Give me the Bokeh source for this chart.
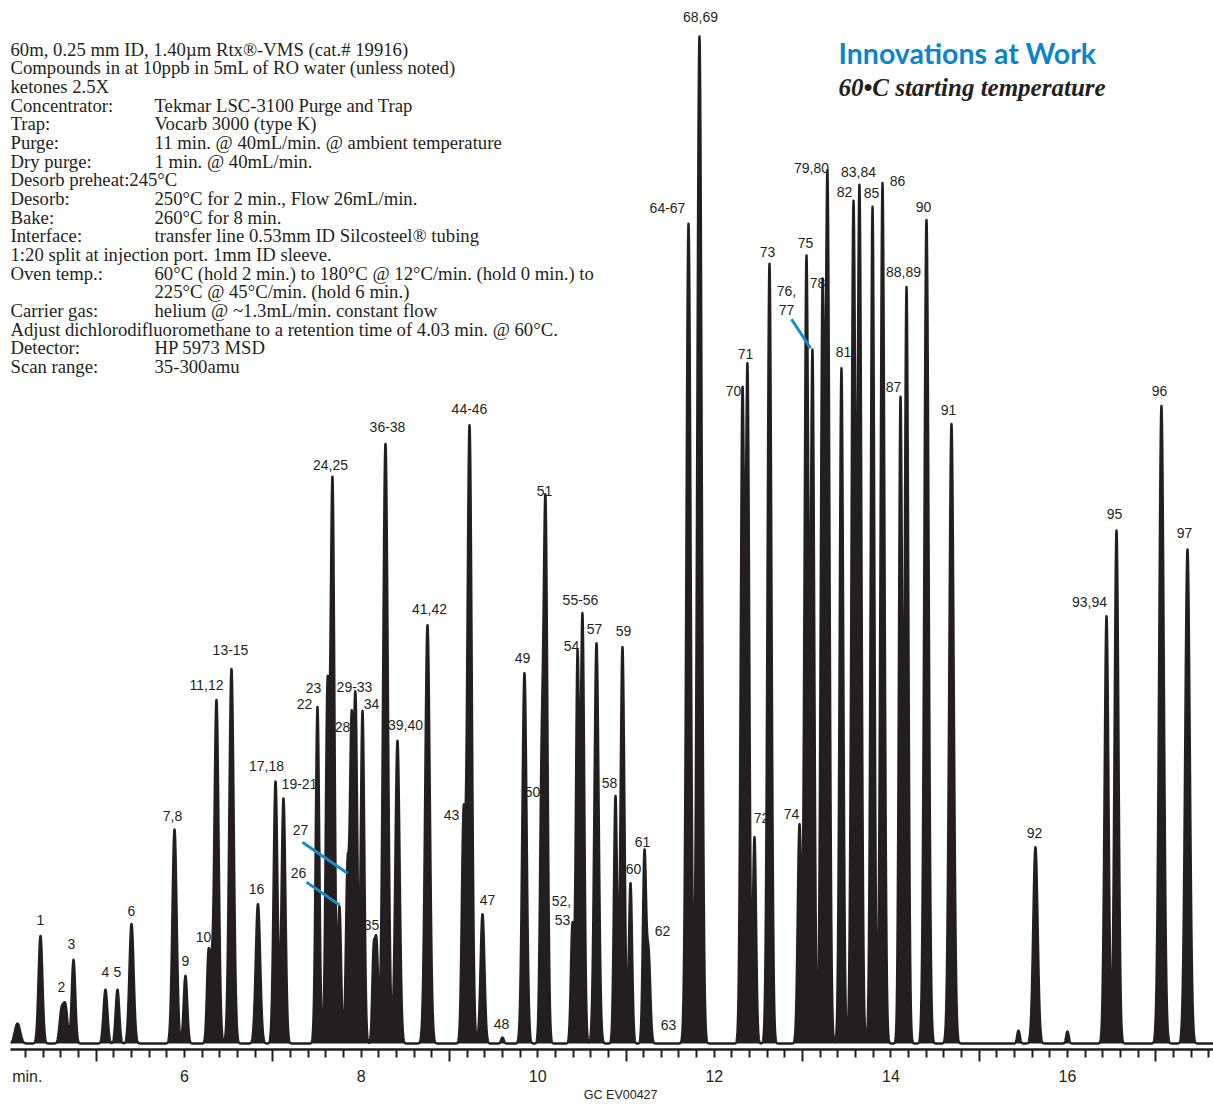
import numpy as np
from bokeh.plotting import figure
from bokeh.models import Range1d, LinearAxis, FixedTicker, ColumnDataSource
from bokeh.core.properties import value
from bokeh.embed import file_html
from bokeh.resources import INLINE

# ---------------- data ----------------
# retention time (min), peak height (detector units), peak sigma (min)
peak_rt = [4.109, 4.369, 4.607, 4.652, 4.743, 5.105, 5.241, 5.400, 5.887, 6.011,
           6.272, 6.306, 6.362, 6.532, 6.832, 7.031, 7.121, 7.506, 7.619, 7.676,
           7.755, 7.846, 7.891, 7.937, 8.016, 8.140, 8.174, 8.276, 8.412, 8.752,
           9.160, 9.228, 9.375, 9.601, 9.850, 10.043, 10.088, 10.394, 10.451, 10.507,
           10.666, 10.881, 10.960, 11.051, 11.209, 11.255, 11.708, 11.832, 12.319, 12.376,
           12.455, 12.625, 12.965, 13.044, 13.112, 13.225, 13.282, 13.440, 13.576, 13.644,
           13.792, 13.905, 14.109, 14.177, 14.403, 14.686, 15.445, 15.637, 16.000, 16.442,
           16.555, 17.064, 17.359]
peak_height = [20, 108, 32, 36, 84, 54, 54, 120, 215, 68,
               90, 55, 345, 376, 140, 263, 246, 338, 345, 563,
               137, 172, 300, 340, 334, 80, 100, 602, 304, 420,
               221, 620, 130, 6, 372, 235, 540, 119, 385, 429,
               402, 248, 398, 161, 188, 90, 823, 1011, 647, 671,
               207, 783, 219, 789, 690, 734, 863, 678, 839, 855,
               840, 864, 647, 759, 827, 622, 13, 197, 12, 429,
               515, 640, 496]
peak_sigma = [0.030, 0.022, 0.022, 0.022, 0.020, 0.022, 0.020, 0.024, 0.024, 0.020,
              0.018, 0.015, 0.024, 0.025, 0.025, 0.022, 0.022, 0.020, 0.020, 0.022,
              0.018, 0.018, 0.018, 0.020, 0.020, 0.015, 0.018, 0.027, 0.024, 0.026,
              0.020, 0.025, 0.022, 0.015, 0.024, 0.018, 0.022, 0.018, 0.018, 0.020,
              0.024, 0.018, 0.022, 0.018, 0.018, 0.020, 0.024, 0.025, 0.020, 0.020,
              0.018, 0.022, 0.020, 0.022, 0.020, 0.020, 0.022, 0.020, 0.022, 0.022,
              0.020, 0.022, 0.018, 0.020, 0.024, 0.025, 0.015, 0.025, 0.015, 0.022,
              0.022, 0.026, 0.026]

# axis ticks (minutes)
label_ticks = [6, 8, 10, 12, 14, 16]
long_ticks = [5, 7, 9, 11, 13, 15, 17]
short_ticks = [round(4.2 + 0.2 * i, 1) for i in range(68)]
short_ticks = [t for t in short_ticks if abs(t - round(t)) > 1e-6 or int(round(t)) % 2 == 0]

# peak identification labels
peak_labels = ["1", "2", "3", "4", "5", "6", "7,8", "9", "10", "11,12", "13-15", "16",
               "17,18", "19-21", "22", "23", "24,25", "26", "27", "28", "29-33", "34",
               "35", "36-38", "39,40", "41,42", "43", "44-46", "47", "48", "49", "50",
               "51", "52,", "53", "54", "55-56", "57", "58", "59", "60", "61", "62", "63",
               "64-67", "68,69", "70", "71", "72", "73", "74", "75", "76,", "77", "78",
               "79,80", "81", "82", "83,84", "85", "86", "87", "88,89", "90", "91", "92",
               "93,94", "95", "96", "97"]

method_left = ["60m, 0.25 mm ID, 1.40µm Rtx®-VMS (cat.# 19916)",
               "Compounds in at 10ppb in 5mL of RO water (unless noted)",
               "ketones 2.5X", "Concentrator:", "Trap:", "Purge:", "Dry purge:",
               "Desorb preheat:245°C", "Desorb:", "Bake:", "Interface:",
               "1:20 split at injection port. 1mm ID sleeve.", "Oven temp.:", "",
               "Carrier gas:",
               "Adjust dichlorodifluoromethane to a retention time of 4.03 min. @ 60°C.",
               "Detector:", "Scan range:"]
method_right = ["", "", "", "Tekmar LSC-3100 Purge and Trap", "Vocarb 3000 (type K)",
                "11 min. @ 40mL/min. @ ambient temperature", "1 min. @ 40mL/min.", "",
                "250°C for 2 min., Flow 26mL/min.", "260°C for 8 min.",
                "transfer line 0.53mm ID Silcosteel® tubing", "",
                "60°C (hold 2 min.) to 180°C @ 12°C/min. (hold 0 min.) to",
                "225°C @ 45°C/min. (hold 6 min.)", "helium @ ~1.3mL/min. constant flow",
                "", "HP 5973 MSD", "35-300amu"]

# ---------------- layout helpers (page pixels -> data) ----------------
PXPM = 88.3          # pixels per minute
def X(px):
    return 6 + (px - 184) / PXPM
def Y(py):
    return 1047 - py

label_pos = [(40, 923), (61, 990), (71, 947), (105, 975), (117, 975), (131, 914), (172, 819),
             (185, 964), (203, 940), (206, 687), (230, 652), (256, 892), (266, 768), (299, 786),
             (304, 706), (313, 690), (330, 466), (298, 876), (300, 833), (342, 729), (354, 689),
             (371, 706), (371, 928), (387, 428), (405, 727), (429, 611), (451, 818), (469, 410),
             (487, 903), (501, 1027), (522, 660), (532, 795), (544, 492), (561, 904), (562, 923),
             (571, 648), (580, 602), (594, 631), (609, 785), (623, 633), (633, 872), (642, 845),
             (662, 934), (668, 1028), (667, 208), (700, 17), (733, 392), (745, 355), (761, 821),
             (767, 252), (791, 817), (805, 243), (786, 292), (786, 311), (817, 284), (811, 168),
             (843, 353), (844, 192), (858, 172), (871, 193), (897, 181), (893, 388), (903, 273),
             (923, 207), (948, 411), (1034, 836), (1089, 604), (1114, 515), (1159, 392),
             (1184, 535)]
leaders = [((302, 845), (347, 876)), ((306, 885), (339, 908)), ((791, 320), (810, 349))]

INK = "#231f20"
BLUE = "#0a86c8"

# ---------------- trace ----------------
x0, x1 = X(10), X(1213)
t = np.linspace(x0, x1, 8000)
sig = np.zeros_like(t)
for rt, h, s in zip(peak_rt, peak_height, peak_sigma):
    sig += h * np.exp(-0.5 * ((t - rt) / s) ** 2)

p = figure(width=1213, height=1104, x_range=Range1d(x0, x1), y_range=Range1d(-6, 1047),
           output_backend="svg", toolbar_location=None,
           x_axis_location=None, y_axis_location=None,
           min_border_left=10, min_border_right=0, min_border_top=0, min_border_bottom=0)
p.outline_line_color = None
p.xgrid.visible = False
p.ygrid.visible = False
p.background_fill_color = "white"
p.border_fill_color = "white"

p.varea(x=t, y1=np.zeros_like(t), y2=sig, fill_color=INK, fill_alpha=1.0)
p.line(t, sig, line_color=INK, line_width=2.4, line_join="round")

# axes: inner one draws line and ticks, outer one the labels
inner = LinearAxis(ticker=FixedTicker(ticks=long_ticks, minor_ticks=short_ticks),
                   axis_line_color=INK, axis_line_width=2.5,
                   major_tick_line_color=INK, major_tick_line_width=2,
                   minor_tick_line_color=INK, minor_tick_line_width=2,
                   major_tick_in=0, major_tick_out=12, minor_tick_in=0, minor_tick_out=8,
                   major_label_overrides={v: "" for v in long_ticks},
                   major_label_standoff=0, major_label_text_font_size="1px")
min_tick = 4.22
outer_over = {min_tick: "min."}
for v in label_ticks:
    outer_over[v] = str(v)
outer = LinearAxis(ticker=FixedTicker(ticks=[min_tick] + label_ticks, minor_ticks=[]),
                   axis_line_color=None, major_tick_line_color=None, minor_tick_line_color=None,
                   major_tick_in=0, major_tick_out=0, minor_tick_in=0, minor_tick_out=0,
                   major_label_overrides=outer_over, major_label_standoff=6,
                   major_label_text_font="Liberation Sans",
                   major_label_text_font_size="16px", major_label_text_color=INK,
                   axis_label="\u00a0" * 6 + "GC  EV00427", axis_label_text_font="Liberation Sans",
                   axis_label_text_font_size="12.5px", axis_label_text_font_style="normal",
                   axis_label_text_color=INK, axis_label_standoff=0)
p.add_layout(inner, "below")
p.add_layout(outer, "below")

# peak labels
lab_src = ColumnDataSource(dict(x=[X(a) for a, b in label_pos], y=[Y(b) for a, b in label_pos],
                                text=peak_labels))
p.text(x="x", y="y", text="text", source=lab_src, text_font=value("Liberation Sans"),
       text_font_size="14px", text_color=INK, text_align="center", text_baseline="middle")

# blue leader lines
p.segment(x0=[X(a[0]) for a, b in leaders], y0=[Y(a[1]) for a, b in leaders],
          x1=[X(b[0]) for a, b in leaders], y1=[Y(b[1]) for a, b in leaders],
          line_color="#1a8ccd", line_width=3)

# method text block
ys = [Y(49 + 18.73 * i) for i in range(len(method_left))]
p.text(x=[X(10)] * len(ys), y=ys, text=method_left, text_font=value("Liberation Serif"),
       text_font_size="18.7px", text_color=INK, text_align="left", text_baseline="middle")
p.text(x=[X(154)] * len(ys), y=ys, text=method_right, text_font=value("Liberation Serif"),
       text_font_size="18.7px", text_color=INK, text_align="left", text_baseline="middle")

# heading
p.text(x=[X(838)], y=[Y(53)], text=["Innovations at Work"],
       text_font=value("Lato"), text_font_style="bold",
       text_font_size="28.5px", text_color=BLUE, text_align="left", text_baseline="middle")
p.text(x=[X(838)], y=[Y(87)], text=["60•C starting temperature"],
       text_font=value("Liberation Serif"), text_font_style="bold italic",
       text_font_size="25px", text_color=INK, text_align="left", text_baseline="middle")

open("out.html", "w").write(file_html(p, INLINE))
